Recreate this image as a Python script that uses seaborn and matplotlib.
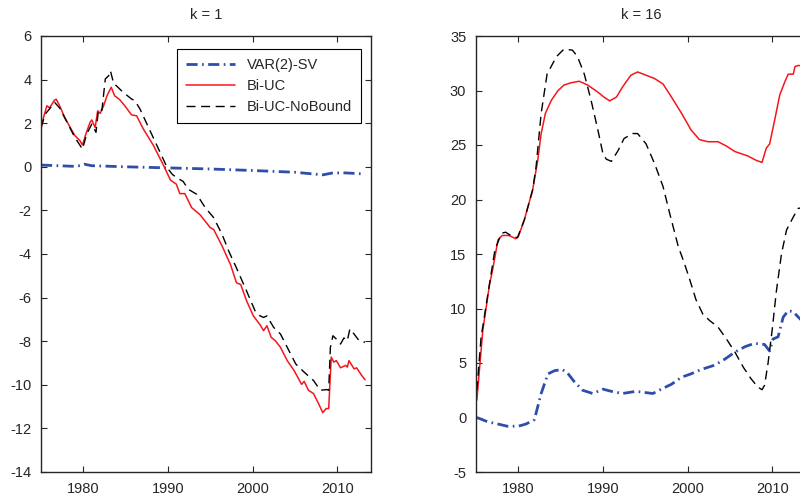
import numpy as np
import pandas as pd
import matplotlib
matplotlib.use('Agg')
import matplotlib.pyplot as plt
import seaborn as sns

# k = 1 panel
k1_var_x = [1975.0, 1977.0, 1979.0, 1979.7, 1980.1, 1981.0, 1985.0, 1990.0, 1995.0, 2000.0,
            2005.0, 2008.3, 2009.5, 2011.0, 2013.3]
k1_var_y = [0.08, 0.05, 0.02, 0.06, 0.12, 0.05, 0.0, -0.05, -0.1, -0.17,
            -0.25, -0.37, -0.28, -0.28, -0.33]

k1_uc_x = [1975.0, 1975.3, 1975.7, 1976.0, 1976.6, 1976.8, 1977.2, 1977.8, 1978.4, 1979.0,
           1979.6, 1979.9, 1980.3, 1980.8, 1981.0, 1981.4, 1981.7, 1982.0, 1982.4, 1982.8,
           1983.3, 1983.7, 1984.3, 1984.9, 1985.7, 1986.3, 1987.1, 1988.3, 1989.5, 1990.3,
           1991.0, 1991.4, 1992.0, 1992.8, 1993.8, 1995.0, 1995.4, 1996.4, 1997.4, 1998.1,
           1998.6, 1999.3, 2000.1, 2000.9, 2001.3, 2001.7, 2002.2, 2002.7, 2003.3, 2004.1,
           2004.9, 2005.8, 2006.1, 2006.6, 2007.2, 2007.8, 2008.3, 2008.7, 2009.0, 2009.3,
           2009.6, 2009.9, 2010.4, 2011.0, 2011.2, 2011.4, 2012.0, 2012.3, 2012.9, 2013.3]
k1_uc_y = [1.73, 2.27, 2.8, 2.7, 3.06, 3.1, 2.8, 2.27, 1.84, 1.43,
           1.2, 1.0, 1.5, 2.04, 2.15, 1.8, 2.57, 2.45, 2.8, 3.26,
           3.65, 3.26, 3.08, 2.8, 2.38, 2.34, 1.73, 0.97, 0.05, -0.61,
           -0.8, -1.23, -1.23, -1.87, -2.2, -2.79, -2.87, -3.63, -4.49, -5.32,
           -5.4, -6.15, -6.84, -7.25, -7.52, -7.29, -7.82, -7.98, -8.28, -8.89,
           -9.34, -9.98, -9.84, -10.25, -10.4, -10.86, -11.28, -11.09, -11.09, -8.73,
           -8.96, -8.89, -9.22, -9.11, -9.19, -8.89, -9.27, -9.22, -9.57, -9.77]

k1_nb_x = [1975.0, 1975.5, 1976.0, 1976.6, 1977.2, 1978.0, 1979.0, 1979.9, 1980.4, 1981.0,
           1981.5, 1981.8, 1982.2, 1982.6, 1983.0, 1983.2, 1983.6, 1983.9, 1984.7, 1985.7,
           1986.1, 1986.7, 1987.7, 1988.9, 1989.9, 1990.5, 1991.0, 1991.8, 1992.4, 1993.4,
           1994.4, 1995.4, 1996.4, 1997.2, 1998.1, 1999.3, 2000.3, 2000.9, 2001.3, 2001.7,
           2002.5, 2003.3, 2004.1, 2005.1, 2006.1, 2007.2, 2008.0, 2008.8, 2009.0, 2009.2,
           2009.5, 2009.9, 2010.4, 2010.8, 2011.2, 2011.5, 2012.0, 2012.6, 2013.3]
k1_nb_y = [1.8, 2.42, 2.65, 2.96, 2.7, 2.1, 1.35, 0.81, 1.5, 1.96,
           1.58, 2.65, 2.6, 4.03, 4.18, 4.41, 3.8, 3.72, 3.42, 3.11,
           3.03, 2.65, 1.81, 0.81, -0.03, -0.34, -0.49, -0.67, -1.03, -1.26,
           -1.87, -2.33, -3.1, -3.88, -4.64, -5.7, -6.61, -6.84, -6.91, -6.84,
           -7.37, -7.67, -8.28, -9.04, -9.42, -9.8, -10.25, -10.22, -10.25, -8.28,
           -7.75, -7.9, -8.13, -7.85, -7.98, -7.44, -7.67, -7.98, -8.05]

# k = 16 panel
k16_var_x = [1975.1, 1976.4, 1977.6, 1978.7, 1980.0, 1980.9, 1981.9, 1982.7, 1983.5, 1984.3,
             1985.2, 1985.8, 1986.6, 1987.6, 1988.8, 1990.0, 1991.0, 1992.3, 1993.9, 1994.9,
             1995.9, 1996.9, 1998.1, 1999.3, 2000.4, 2001.6, 2003.2, 2004.4, 2005.6, 2006.8,
             2007.9, 2009.1, 2009.7, 2010.1, 2010.7, 2011.3, 2011.9, 2012.5, 2013.1, 2013.5, 2014.0]
k16_var_y = [0.0, -0.4, -0.6, -0.8, -0.8, -0.6, -0.2, 2.2, 4.0, 4.3,
             4.4, 4.1, 3.3, 2.5, 2.2, 2.6, 2.4, 2.2, 2.4, 2.3,
             2.2, 2.6, 3.05, 3.7, 4.0, 4.4, 4.8, 5.35, 6.0, 6.5,
             6.8, 6.7, 6.1, 7.2, 7.4, 9.2, 9.8, 9.7, 9.2, 8.9, 8.6]

k16_uc_x = [1975.1, 1975.8, 1976.6, 1977.0, 1977.6, 1978.1, 1978.9, 1979.7, 1980.0, 1980.7,
            1981.7, 1982.3, 1982.7, 1983.2, 1983.9, 1984.7, 1985.4, 1986.2, 1987.2, 1988.2,
            1989.4, 1990.2, 1990.8, 1991.6, 1992.3, 1993.3, 1994.1, 1995.1, 1996.1, 1997.1,
            1998.1, 1999.3, 2000.4, 2001.4, 2002.4, 2003.6, 2004.6, 2005.6, 2007.1, 2008.1,
            2008.8, 2009.3, 2009.7, 2010.3, 2010.9, 2011.5, 2011.9, 2012.5, 2012.7, 2013.1,
            2013.5, 2014.0]
k16_uc_y = [1.6, 7.96, 12.2, 13.7, 16.3, 16.7, 16.7, 16.4, 16.6, 18.1,
            20.9, 23.6, 26.05, 27.9, 29.1, 30.0, 30.5, 30.7, 30.85, 30.5,
            29.85, 29.35, 29.05, 29.4, 30.3, 31.4, 31.7, 31.4, 31.1, 30.6,
            29.4, 27.9, 26.4, 25.5, 25.3, 25.3, 24.9, 24.4, 24.0, 23.6,
            23.4, 24.7, 25.1, 27.3, 29.6, 30.8, 31.5, 31.5, 32.2, 32.3,
            32.25, 32.1]

k16_nb_x = [1975.1, 1975.6, 1976.4, 1977.2, 1977.4, 1978.0, 1978.5, 1979.3, 1979.9, 1980.7,
            1981.7, 1982.1, 1982.7, 1983.4, 1984.5, 1985.4, 1986.4, 1987.0, 1987.8, 1988.6,
            1989.4, 1990.0, 1990.4, 1991.0, 1991.8, 1992.5, 1993.5, 1994.1, 1995.1, 1996.1,
            1997.1, 1997.9, 1998.9, 1999.6, 2000.2, 2001.0, 2001.8, 2002.6, 2003.6, 2004.6,
            2005.6, 2006.6, 2007.5, 2008.3, 2008.8, 2009.1, 2009.5, 2010.0, 2010.5, 2011.1,
            2011.7, 2012.5, 2013.1, 2013.5, 2014.0]
k16_nb_y = [2.5, 7.35, 11.3, 15.2, 15.7, 16.9, 17.0, 16.6, 16.5, 18.1,
            20.9, 23.0, 27.9, 31.5, 33.1, 33.8, 33.7, 33.1, 31.5, 29.1,
            26.4, 24.2, 23.7, 23.5, 24.5, 25.6, 26.05, 26.05, 25.1, 23.3,
            21.2, 18.7, 15.7, 14.2, 12.8, 10.8, 9.5, 8.9, 8.3, 7.2,
            6.0, 4.6, 3.56, 2.8, 2.55, 2.95, 4.9, 8.0, 11.6, 15.0,
            17.2, 18.4, 19.2, 19.2, 19.1]

labels = ['VAR(2)-SV', 'Bi-UC', 'Bi-UC-NoBound']
titles = ['k = 1', 'k = 16']

sns.set_style('ticks')
plt.rcParams['font.family'] = ['Liberation Sans', 'DejaVu Sans']
plt.rcParams['font.size'] = 10.5
plt.rcParams['axes.unicode_minus'] = False  # plain hyphen like the original

blue = '#2f4eaa'
red = '#f5161b'
txt = '#262626'

fig = plt.figure(figsize=(8, 5), dpi=100)
ax1 = fig.add_axes([41 / 800, 28 / 500, 330 / 800, 436 / 500])
ax2 = fig.add_axes([476 / 800, 28 / 500, 330 / 800, 436 / 500])

panels = [
    (ax1, (k1_var_x, k1_var_y), (k1_uc_x, k1_uc_y), (k1_nb_x, k1_nb_y)),
    (ax2, (k16_var_x, k16_var_y), (k16_uc_x, k16_uc_y), (k16_nb_x, k16_nb_y)),
]

for i, (ax, var, uc, nb) in enumerate(panels):
    sns.lineplot(x=var[0], y=var[1], ax=ax, color=blue, lw=2.0, label=labels[0], legend=False)
    ax.lines[-1].set_dashes([4, 1.6, 0.6, 1.6])
    sns.lineplot(x=uc[0], y=uc[1], ax=ax, color=red, lw=1.1, label=labels[1], legend=False)
    sns.lineplot(x=nb[0], y=nb[1], ax=ax, color='black', lw=1.0, label=labels[2], legend=False)
    ax.lines[-1].set_dashes([6.5, 4])
    ax.set_title(titles[i], fontsize=10.5, pad=12, color=txt)
    ax.set_xlim(1975, 2014)
    ax.set_xticks([1980, 1990, 2000, 2010])
    ax.tick_params(direction='in', top=True, right=True, length=4, width=0.8,
                   labelsize=10.5, colors=txt, pad=7)
    for s in ax.spines.values():
        s.set_visible(True)
        s.set_color(txt)
        s.set_linewidth(1.0)
    ax.set_xlabel('')
    ax.set_ylabel('')

ax1.set_ylim(-14, 6)
ax1.set_yticks(np.arange(-14, 7, 2))
ax2.set_ylim(-5, 35)
ax2.set_yticks(np.arange(-5, 36, 5))

leg = ax1.legend(loc='upper right', bbox_to_anchor=(0.970, 0.970), borderaxespad=0,
                 fancybox=False, framealpha=1, edgecolor='black', handlelength=3.4,
                 handletextpad=0.8, fontsize=10.5, borderpad=0.6, labelspacing=0.5)
leg.get_frame().set_linewidth(0.8)

fig.savefig('out.png', dpi=100)
